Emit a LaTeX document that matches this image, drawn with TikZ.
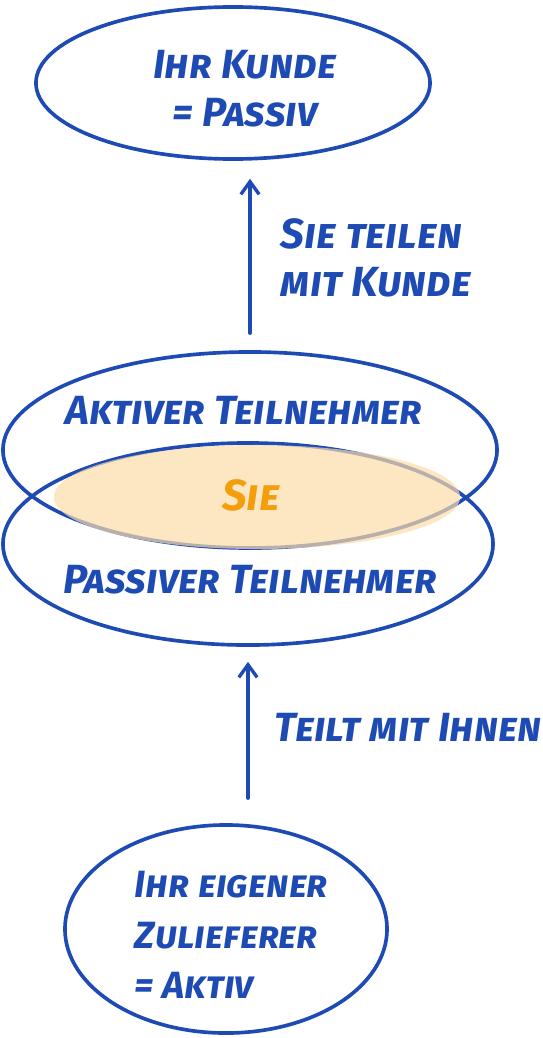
\documentclass[tikz,border=0pt]{standalone}
\usepackage{fontspec}
\setmainfont{Fira Sans}
\usetikzlibrary{arrows.meta, positioning, shapes.geometric, calc}
\definecolor{penblue}{HTML}{1D4AB3}
\definecolor{penorange}{HTML}{F59E0B}
\definecolor{blobfill}{HTML}{FCDBA8}

\begin{document}
\begin{tikzpicture}[
  x=0.025cm, y=-0.025cm,
  every node/.style={font=\fontsize{29}{34}\selectfont\bfseries\itshape\scshape, text=penblue},
  blob/.style={ellipse, draw=penblue, line width=2.6pt, inner sep=0pt},
  flow/.style={-{Straight Barb[length=9pt, width=13pt]}, draw=penblue, line width=2.4pt, line cap=round},
]
\useasboundingbox (0,0) rectangle (542,1038);

% Customer on top
\node[blob, minimum width=9.85cm, minimum height=3.8cm] (kunde) at (233,83) {};
\node[align=center] (kundetext) at (245,89) {Ihr Kunde\\= Passiv};

% Active and passive participant
\node[blob, minimum width=12.35cm, minimum height=4.9cm] (aktiv) at (250,450) {};
\node[blob, minimum width=12.25cm, minimum height=5.05cm] (passiv) at (248,544) {};
\node[ellipse, fill=blobfill, fill opacity=0.7, minimum width=10.15cm, minimum height=2.6cm] (sie) at (257,497) {};
\node[text=penorange, font=\fontsize{31}{34}\selectfont\bfseries\itshape\scshape] (sietext) at (251,495) {Sie};
\node (aktivtext) at (244,410) {Aktiver Teilnehmer};
\node (passivtext) at (250,580) {Passiver Teilnehmer};

% Supplier at bottom
\node[blob, minimum width=8.05cm, minimum height=5.2cm] (zuliefer) at (226,929) {};
\node[align=left, anchor=west, font=\fontsize{27}{36}\selectfont\bfseries\itshape\scshape] (zuliefertext) at (130,935) {Ihr eigener\\Zulieferer\\= Aktiv};

% Arrows with labels
\draw[flow, shorten <=17pt*0.709, shorten >=18pt*0.709] (aktiv.north) -- (aktiv.north |- kunde.south);
\node[align=left, anchor=west, font=\fontsize{30}{34}\selectfont\bfseries\itshape\scshape] (teilen) at (276,258) {Sie teilen\\mit Kunde};

\draw[flow, shorten <=25pt*0.709, shorten >=15pt*0.709] (zuliefer.north -| passiv.south) -- (passiv.south);
\node[anchor=west] (teilt) at (270,727) {Teilt mit Ihnen};

\end{tikzpicture}
\end{document}
